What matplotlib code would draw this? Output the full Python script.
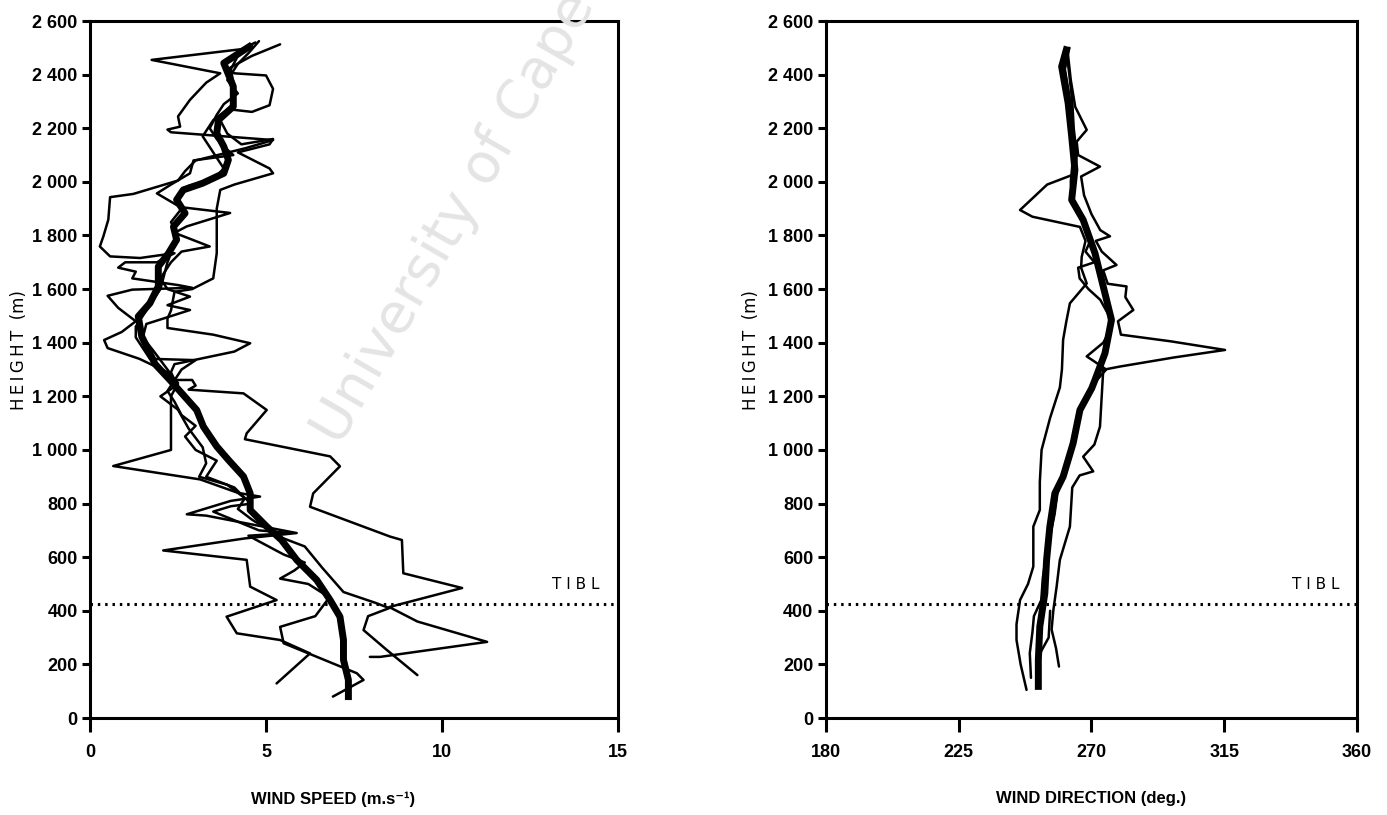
import matplotlib
matplotlib.use("Agg")
import matplotlib.pyplot as plt
from matplotlib.ticker import FixedLocator, FuncFormatter

# wind speed profiles (m/s, height m); thick line is the mean profile
speed_mean_x = [4.6, 3.8, 4.07, 4.07, 3.65, 3.6, 3.8, 3.93, 3.8, 3.2, 2.65, 2.46, 2.7, 2.37, 2.46,
                2.23, 1.94, 1.94, 1.7, 1.37, 1.47, 1.7, 1.85, 2.27, 3.03, 3.22, 3.6, 3.93, 4.36,
                4.55, 4.55, 5.02, 5.44, 5.87, 6.44, 6.82, 7.1, 7.2, 7.2, 7.34, 7.34]
speed_mean_h = [2511, 2443, 2356, 2281, 2231, 2181, 2132, 2082, 2032, 1995, 1970, 1933, 1883, 1833, 1784,
                1734, 1684, 1610, 1547, 1498, 1423, 1361, 1320, 1261, 1149, 1087, 1013, 963, 901,
                838, 776, 714, 664, 590, 515, 440, 378, 291, 217, 142, 67]

speed_a_x = [5.4, 4.6, 3.9, 4.1, 5.0, 5.2, 5.1, 4.6, 4.0, 3.7, 3.9, 4.3, 5.2, 5.1, 4.2, 5.1, 5.2, 4.1,
             3.7, 3.6, 3.6, 3.6, 3.5, 2.9, 2.4, 2.3, 2.2, 2.2, 3.5, 4.55, 4.1, 2.4, 2.3, 2.4, 2.9, 3.0,
             2.8, 4.36, 5.02, 4.45, 4.4, 6.82, 7.1, 6.34, 6.25, 8.52, 8.86, 8.9, 10.57, 8.5, 9.3,
             11.28, 8.24, 7.95]
speed_a_h = [2513, 2470, 2420, 2405, 2397, 2347, 2286, 2261, 2270, 2230, 2180, 2140, 2160, 2140, 2110,
             2050, 2032, 1990, 1970, 1900, 1800, 1734, 1640, 1600, 1590, 1520, 1490, 1455, 1430, 1398,
             1367, 1320, 1290, 1261, 1261, 1240, 1225, 1211, 1149, 1062, 1040, 976, 939, 838, 788, 677,
             664, 540, 485, 414, 360, 284, 228, 228]

speed_b_x = [4.7, 4.3, 1.75, 3.7, 3.3, 2.84, 2.5, 2.56, 2.2, 2.3, 5.2, 4.4, 3.0, 2.7, 2.5, 1.23, 0.57,
             0.52, 0.38, 0.28, 0.57, 1.42, 2.4, 1.9, 1.0, 0.8, 1.3, 1.2, 2.5, 2.9, 1.2, 0.5, 0.8, 1.3,
             0.9, 0.4, 0.5, 1.4, 2.2, 2.5, 2.3, 2.3, 2.3, 0.66, 3.13, 4.2, 4.83, 4.0, 2.75, 3.3, 5.87,
             4.4, 2.08, 4.45, 4.55, 5.3, 3.88, 4.17, 5.4, 6.25, 5.3]
speed_b_h = [2520, 2495, 2455, 2405, 2370, 2306, 2244, 2206, 2195, 2185, 2156, 2125, 2080, 2040, 2005,
             1955, 1943, 1859, 1797, 1759, 1722, 1716, 1734, 1700, 1700, 1680, 1665, 1640, 1615, 1605,
             1598, 1575, 1530, 1480, 1440, 1410, 1380, 1340, 1290, 1250, 1200, 1140, 1000, 940, 890,
             840, 826, 810, 760, 755, 690, 670, 625, 590, 490, 440, 378, 316, 291, 241, 129]

speed_c_x = [4.8, 4.5, 4.2, 3.9, 4.2, 3.8, 3.6, 3.4, 3.6, 3.9, 4.07, 2.94, 2.84, 2.3, 1.9, 2.56, 3.98,
             2.75, 2.4, 3.4, 2.6, 2.3, 2.0, 2.2, 2.84, 2.2, 2.84, 2.2, 1.6, 1.5, 1.8, 2.2, 2.5, 2.0,
             2.5, 2.8, 3.2, 3.3, 3.1, 3.9, 4.6, 4.0, 3.5, 4.8, 5.7, 4.5, 5.5, 6.1, 5.8, 5.4, 6.2, 6.8,
             6.4, 5.4, 5.5, 7.58, 7.77, 6.9]
speed_c_h = [2525, 2480, 2440, 2380, 2330, 2290, 2250, 2200, 2160, 2120, 2100, 2080, 2032, 1990, 1957,
             1906, 1884, 1834, 1810, 1759, 1740, 1700, 1640, 1600, 1572, 1540, 1522, 1495, 1470, 1420,
             1370, 1300, 1245, 1200, 1150, 1080, 1010, 950, 900, 870, 800, 790, 770, 700, 690, 680,
             610, 580, 550, 520, 500, 450, 380, 340, 279, 167, 142, 80]

speed_d_x = [4.6, 4.2, 4.0, 4.1, 4.0, 3.5, 3.2, 3.5, 3.8, 3.5, 2.8, 2.5, 2.6, 2.3, 2.5, 2.2, 2.0, 1.6,
             1.3, 1.3, 1.5, 1.7, 3.0, 2.6, 2.2, 2.4, 2.6, 3.0, 2.7, 3.0, 3.6, 3.3, 4.1, 4.4, 4.2, 4.6,
             5.1, 5.5, 6.1, 6.6, 7.2, 8.1, 8.5, 7.9, 7.77, 8.43, 9.3]
speed_d_h = [2510, 2470, 2420, 2350, 2280, 2230, 2170, 2110, 2050, 2010, 1985, 1950, 1900, 1850, 1800,
             1700, 1600, 1520, 1460, 1420, 1380, 1340, 1335, 1300, 1220, 1180, 1130, 1090, 1050, 1000,
             960, 900, 860, 820, 780, 740, 700, 670, 640, 560, 470, 430, 410, 380, 328, 254, 160]

# wind direction profiles (deg, height m)
dir_mean_x = [261.8, 259.9, 262.1, 263.3, 264.4, 263.3, 267.2, 271.2, 274.0, 276.8, 274.6, 271.2,
              270.1, 266.1, 263.8, 260.4, 257.6, 255.9, 254.8, 254.2, 252.5, 252.0, 252.0]
dir_mean_h = [2505, 2430, 2294, 2170, 2045, 1933, 1858, 1734, 1610, 1485, 1361, 1261,
              1230, 1149, 1025, 900, 838, 714, 590, 465, 341, 217, 105]

dir_a_x = [261.5, 262.5, 263.5, 264.0, 265.0, 264.5, 255.0, 245.8, 250.0, 266.1, 268.0, 266.7, 266.5,
           268.4, 262.7, 261.5, 260.4, 260.0, 259.3, 256.0, 253.1, 252.5, 252.5, 250.3, 250.3, 248.5,
           245.8, 244.6, 244.6, 246.0, 248.0]
dir_a_h = [2490, 2400, 2300, 2200, 2100, 2030, 1990, 1895, 1870, 1832, 1780, 1720, 1680,
           1621, 1547, 1480, 1411, 1300, 1233, 1120, 1000, 880, 776, 714, 565, 500,
           440, 350, 291, 200, 105]

dir_b_x = [262.0, 263.0, 264.5, 268.4, 265.0, 265.5, 272.9, 266.5, 267.5, 270.0, 273.0, 276.3, 271.5,
           273.5, 278.5, 274.0, 275.5, 281.9, 281.5, 284.2, 279.0, 280.0, 297.0, 315.3, 298.0, 279.6,
           274.0, 272.9, 271.0, 267.2, 270.6, 266.0, 263.5, 262.7, 259.3, 258.2, 257.1, 256.5, 258.0,
           259.0]
dir_b_h = [2480, 2380, 2280, 2194, 2150, 2100, 2057, 2020, 1950, 1880, 1820, 1797, 1780,
           1740, 1690, 1670, 1620, 1610, 1570, 1522, 1480, 1430, 1405, 1373, 1345, 1311,
           1299, 1087, 1020, 975, 920, 905, 860, 714, 590, 490, 403, 330, 260,
           192]

dir_c_x = [262.5, 261.0, 262.5, 263.5, 264.0, 263.0, 263.5, 266.0, 270.0, 268.0, 271.0, 265.5, 266.0,
           269.0, 273.0, 276.0, 276.0, 274.0, 268.4, 271.0, 275.0, 271.0, 268.0, 266.0, 264.0, 262.5,
           260.5, 258.5, 257.5, 256.0, 254.5, 253.5, 253.0, 250.5, 250.0, 249.1, 249.5]
dir_c_h = [2500, 2420, 2320, 2220, 2120, 2000, 1930, 1870, 1790, 1740, 1700, 1680, 1640,
           1600, 1560, 1500, 1440, 1400, 1349, 1330, 1300, 1250, 1200, 1140, 1060, 980,
           900, 840, 760, 680, 600, 520, 440, 380, 320, 242, 150]

dir_d_x = [256.0, 255.5, 253.0, 251.5, 252.0]
dir_d_h = [400, 300, 250, 200, 120]

tibl_height = 425
height_ticks = list(range(0, 2601, 200))
speed_ticks = [0, 5, 10, 15]
dir_ticks = [180, 225, 270, 315, 360]

tick_font = ["Liberation Sans", "DejaVu Sans"]
# thin spaces spread the letters of the height label
height_label = "\u2009".join("HEIGHT") + "  (m)"


def fmt_height(v, pos):
    return f"{int(v):,}".replace(",", " ")


def style_axes(ax, xlim, xticks, xlabel, label_x, ylabel_x):
    ax.set_xlim(*xlim)
    ax.set_ylim(0, 2600)
    for s in ax.spines.values():
        s.set_linewidth(2.2)
    ax.xaxis.set_major_locator(FixedLocator(xticks))
    ax.yaxis.set_major_locator(FixedLocator(height_ticks))
    ax.yaxis.set_major_formatter(FuncFormatter(fmt_height))
    ax.tick_params(axis="x", direction="out", length=10, width=2.2, pad=9)
    ax.tick_params(axis="y", direction="out", length=6, width=2.2, pad=3)
    for lab in ax.get_xticklabels() + ax.get_yticklabels():
        lab.set_family(tick_font)
        lab.set_fontweight("bold")
        lab.set_fontsize(13)
    ax.set_xlabel(xlabel, family=tick_font, fontweight="bold", fontsize=12)
    ax.xaxis.set_label_coords(label_x, -0.105)
    ax.set_ylabel(height_label, family="DejaVu Sans", fontsize=12)
    ax.yaxis.set_label_coords(ylabel_x, 0.528)
    ax.axhline(tibl_height, color="black", lw=2.2, ls=(0, (0.8, 1.6)), zorder=2)


fig = plt.figure(figsize=(13.87, 8.15), dpi=100)
fig.text(0.245, 0.452, "University of Cape Town", rotation=60, rotation_mode="anchor",
         fontsize=40, color="#e4e4e4", family="DejaVu Sans", zorder=0)

ax1 = fig.add_axes([0.0649, 0.119, 0.3807, 0.8552])
ax2 = fig.add_axes([0.5955, 0.119, 0.3828, 0.8552])
ax1.patch.set_alpha(0)
ax2.patch.set_alpha(0)

thin = dict(color="black", lw=1.8, solid_capstyle="round", solid_joinstyle="round")
for xs, hs in [(speed_a_x, speed_a_h), (speed_b_x, speed_b_h),
               (speed_c_x, speed_c_h), (speed_d_x, speed_d_h)]:
    ax1.plot(xs, hs, **thin)
ax1.plot(speed_mean_x, speed_mean_h, color="black", lw=5, solid_capstyle="butt",
         solid_joinstyle="round")

for xs, hs in [(dir_a_x, dir_a_h), (dir_b_x, dir_b_h),
               (dir_c_x, dir_c_h), (dir_d_x, dir_d_h)]:
    ax2.plot(xs, hs, **thin)
ax2.plot(dir_mean_x, dir_mean_h, color="black", lw=5, solid_capstyle="butt",
         solid_joinstyle="round")

style_axes(ax1, (0, 15), speed_ticks, "WIND SPEED (m.s\u207b\u00b9)", 0.46, -0.117)
style_axes(ax2, (180, 360), dir_ticks, "WIND DIRECTION (deg.)", 0.5, -0.124)

ax1.text(13.8, 470, "T I B L", ha="center", va="bottom", fontsize=11, family="DejaVu Sans")
ax2.text(346, 470, "T I B L", ha="center", va="bottom", fontsize=11, family="DejaVu Sans")

fig.savefig("out.png", dpi=100)
